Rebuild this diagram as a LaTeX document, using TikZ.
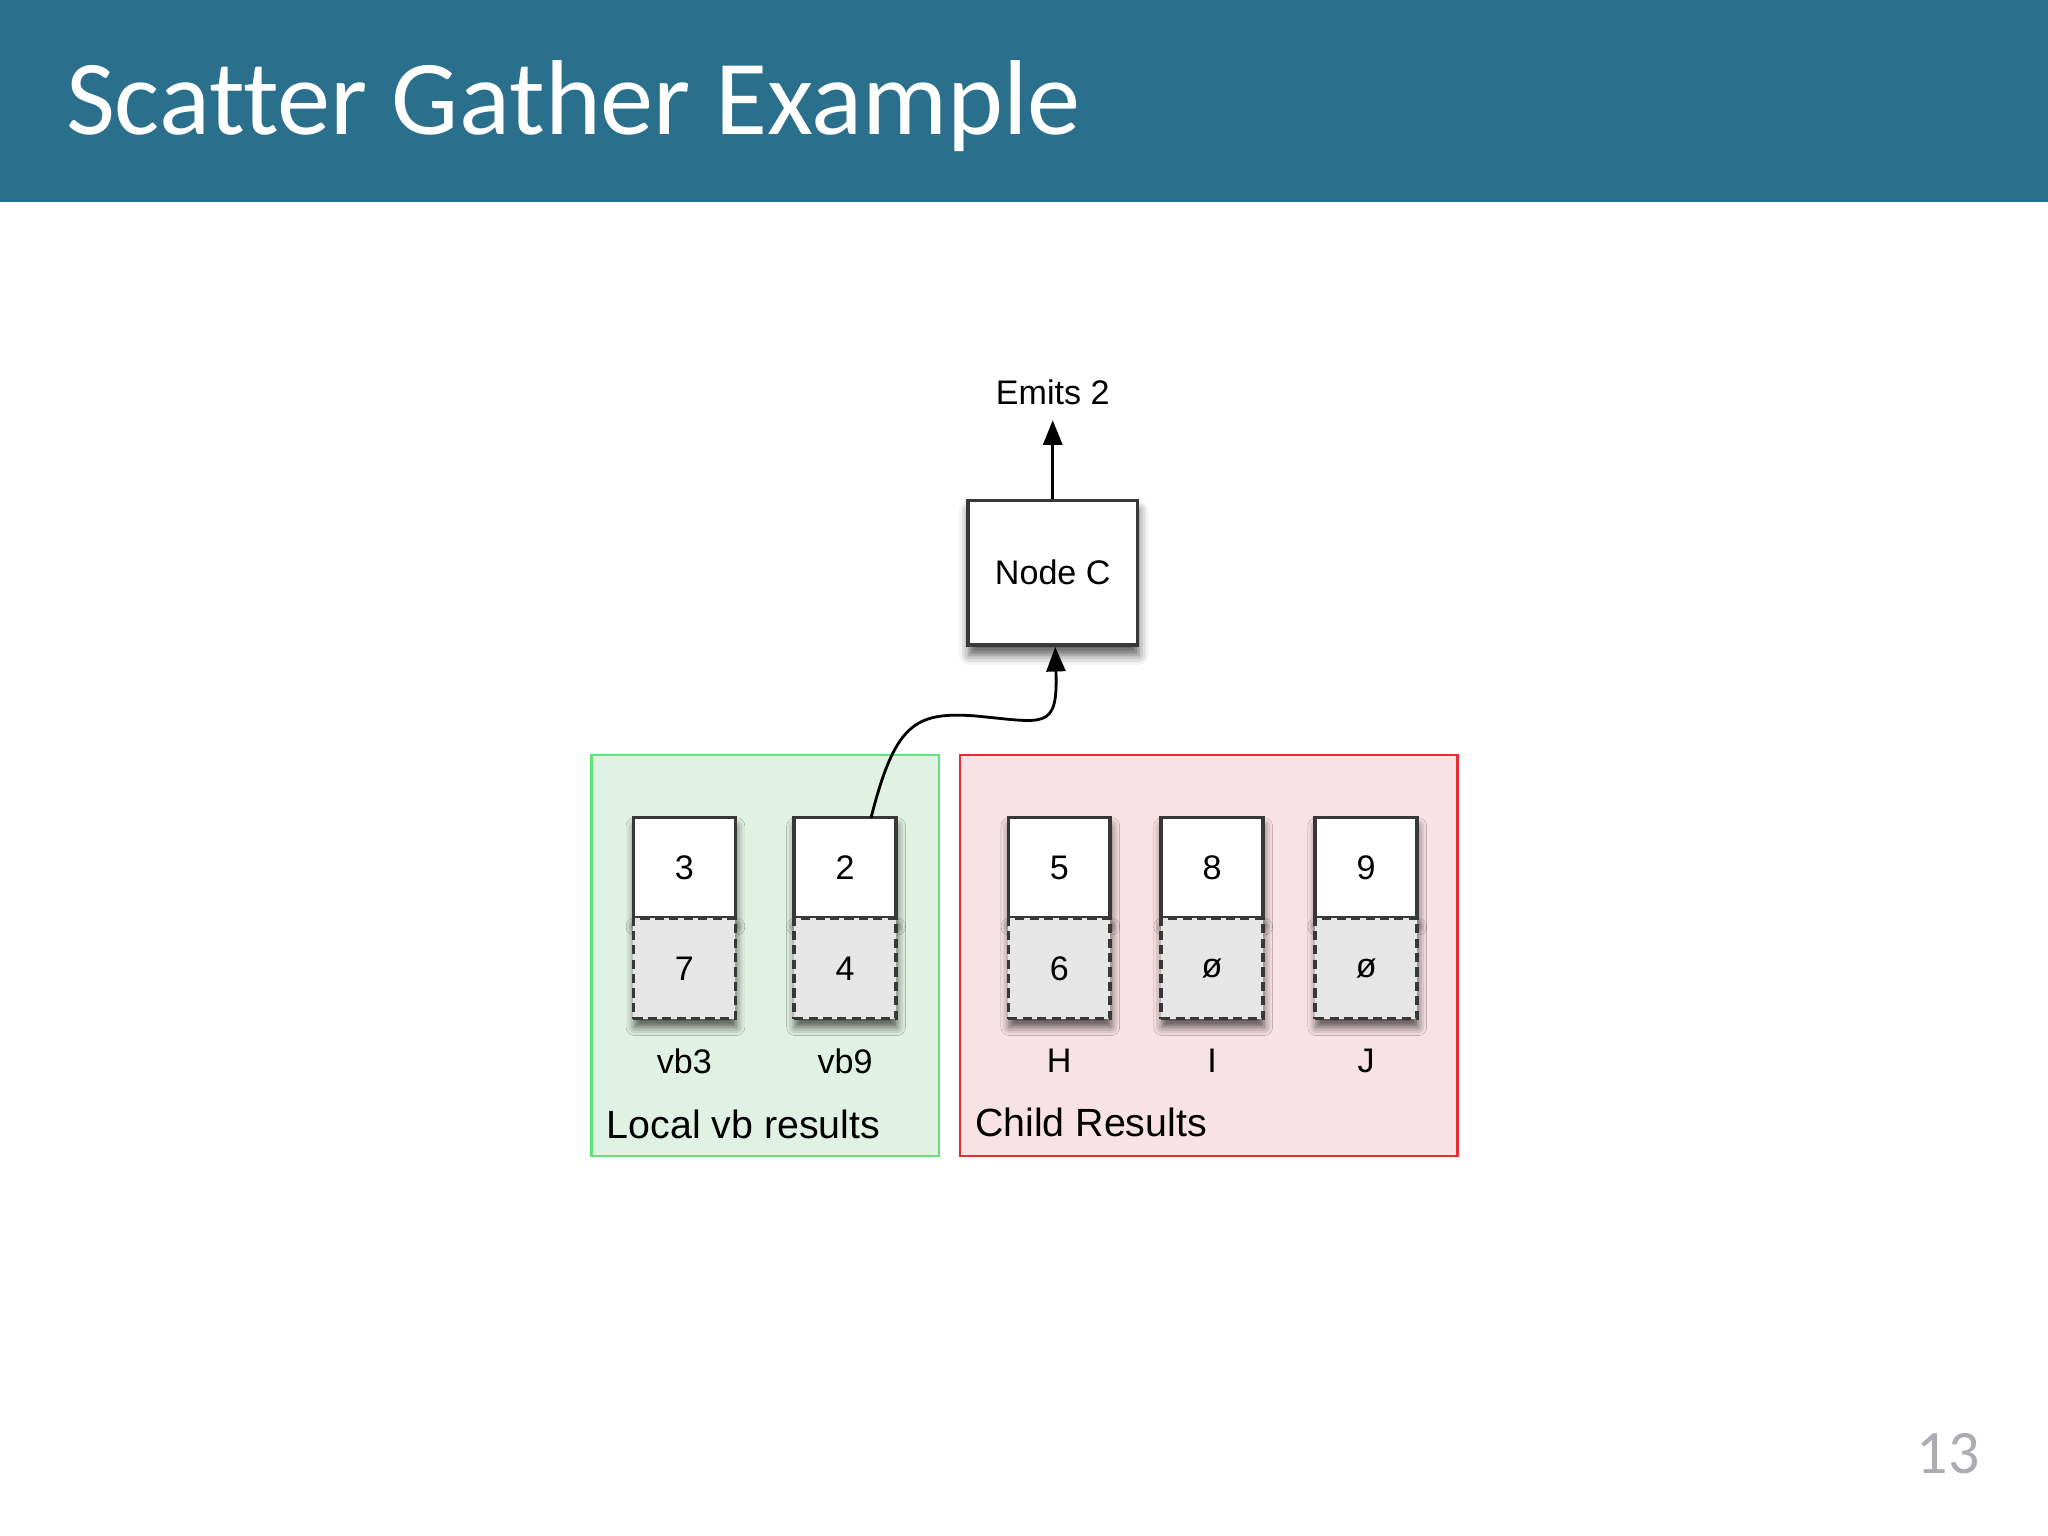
\documentclass[tikz,border=0pt]{standalone}
\usepackage{fontspec}
\setmainfont{Liberation Sans}
\newfontfamily\slidefont[Ligatures=NoCommon]{Carlito}
\usetikzlibrary{positioning,shadows.blur,arrows.meta}
\definecolor{headerblue}{RGB}{42,111,140}
\definecolor{localfill}{RGB}{224,242,228}
\definecolor{localline}{RGB}{98,226,122}
\definecolor{childfill}{RGB}{249,226,229}
\definecolor{childline}{RGB}{232,44,54}
\definecolor{cellgray}{RGB}{230,230,230}
\definecolor{pagegray}{RGB}{172,172,178}
\tikzset{
  cellbase/.style={draw=black!78, line width=1pt, inner sep=0pt, outer sep=0pt,
    minimum width=29pt, minimum height=28.6pt, font=\fontsize{9.7}{11}\selectfont,
    blur shadow={shadow xshift=0.3pt, shadow yshift=-2.4pt, shadow blur radius=2.4pt, shadow opacity=65}},
  valcell/.style={cellbase, fill=white},
  nullcell/.style={cellbase, fill=cellgray, dash pattern=on 2.6pt off 1.5pt},
  colname/.style={inner sep=0pt, font=\fontsize{9.7}{11}\selectfont},
  group/.style={line width=0.8pt, minimum height=114.1pt, inner sep=0pt},
  grouplabel/.style={inner sep=0pt, anchor=base west, font=\fontsize{11.2}{13}\selectfont},
  hostbox/.style={draw=black!78, fill=white, line width=1pt, minimum width=48.3pt,
    minimum height=41.2pt, font=\fontsize{9.7}{11}\selectfont,
    blur shadow={shadow xshift=0.3pt, shadow yshift=-2.8pt, shadow blur radius=2.8pt, shadow opacity=65}},
  link/.style={line width=0.8pt, -{Triangle[width=5.4pt,length=7pt]}}
}
\begin{document}
\begin{tikzpicture}[x=0.01306cm, y=-0.01306cm]
\useasboundingbox (0,0) rectangle (1568,1176);
%% slide frame
\fill[headerblue] (0,0) rectangle (1568,155);
\node[anchor=base west, inner sep=0pt, text=white, font=\slidefont\fontsize{30.3}{34}\selectfont] (title) at (50,103) {Scatter Gather Example};
\node[anchor=base east, inner sep=0pt, text=pagegray, font=\slidefont\fontsize{17.6}{20}\selectfont] (page) at (1516,1128) {13};
%% result groups
\node[group, draw=localline, fill=localfill, minimum width=98.8pt] (local) at (586,731.5) {};
\node[group, draw=childline, fill=childfill, minimum width=141.6pt] (child) at (925.5,731.5) {};
\node[grouplabel] (locallabel) at (464,872) {Local vb results};
\node[grouplabel] (childlabel) at (746,870) {Child Results};
%% columns
\foreach \x/\up/\down/\lab/\nm in {524/3/7/vb3/vbthree, 647/2/4/vb9/vbnine, 811/5/6/H/h, 928/8/ø/I/i, 1046/9/ø/J/j} {
  \node[valcell] (\nm-top) at (\x,664.5) {\up};
  \node[nullcell, below=0pt of \nm-top] (\nm-bot) {\down};
  \node[colname, below=8.5pt of \nm-bot] (\nm-name) {\lab};
}
%% node c
\node[hostbox] (nodec) at (806,438.5) {Node C};
\node[inner sep=0pt, font=\fontsize{9.7}{11}\selectfont] (emits) at (806,300) {Emits 2};
\draw[link, shorten >=4.3pt] (nodec.north) -- (emits.south);
\draw[link] ([xshift=7.4pt]vbnine-top.north) .. controls (685,555) and (700,545) .. (745,548)
  .. controls (800,553) and (810,560) .. ([xshift=0.7pt]nodec.south);
\end{tikzpicture}
\end{document}
